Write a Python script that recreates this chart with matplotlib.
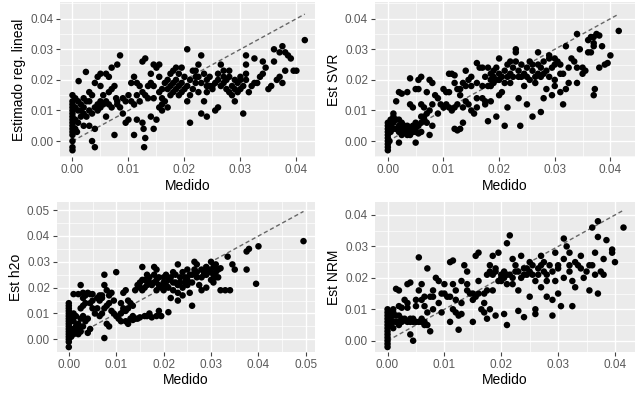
import matplotlib
matplotlib.use('Agg')
import matplotlib.pyplot as plt
from matplotlib.ticker import MultipleLocator, FormatStrFormatter

plt.rcParams['font.family'] = ['Liberation Sans', 'DejaVu Sans']

lineal = [
    (0, -0.003), (0, -0.002), (0, 0.0), (0, 0.002), (0, 0.003), (0, 0.004), (0, 0.005), (0, 0.006),
    (0, 0.007), (0, 0.008), (0, 0.009), (0, 0.010), (0, 0.011), (0, 0.012), (0, 0.013), (0, 0.015),
    (0.0005, 0.011), (0.0005, 0.007), (0.0008, 0.003), (0.0011, 0.0196), (0.0024, 0.0226), (0.001, 0.013),
    (0.0015, 0.012), (0.002, 0.009), (0.0025, 0.008), (0.002, 0.005), (0.003, 0.005), (0.002, 0.014),
    (0.003, 0.016), (0.0035, 0.015), (0.003, 0.013), (0.004, 0.011), (0.0045, 0.012), (0.004, 0.004),
    (0.004, -0.002), (0.0035, 0.0), (0.0045, 0.021), (0.004, 0.019), (0.005, 0.022), (0.005, 0.018),
    (0.0055, 0.015), (0.005, 0.011), (0.006, 0.013), (0.006, 0.022), (0.0065, 0.021), (0.007, 0.024),
    (0.007, 0.017), (0.0075, 0.018), (0.006, 0.008), (0.0065, 0.012), (0.007, 0.011), (0.0075, 0.002),
    (0.008, 0.025), (0.0085, 0.028), (0.0078, 0.014), (0.008, 0.013), (0.009, 0.014), (0.0095, 0.006),
    (0.010, 0.007), (0.009, 0.009), (0.010, 0.015), (0.0105, 0.013), (0.011, 0.012), (0.011, 0.021),
    (0.0115, 0.019), (0.0125, 0.026), (0.013, 0.027), (0.012, 0.013), (0.0125, 0.016), (0.013, 0.015),
    (0.011, 0.002), (0.0115, 0.007), (0.0125, 0.006), (0.0127, 0.004), (0.013, 0.001), (0.0128, -0.002),
    (0.0135, 0.018), (0.014, 0.019), (0.014, 0.022), (0.0145, 0.025), (0.015, 0.024), (0.0155, 0.025),
    (0.0155, 0.021), (0.0145, 0.014), (0.014, 0.008), (0.0145, 0.004), (0.015, 0.007), (0.0155, 0.011),
    (0.016, 0.010), (0.016, 0.012), (0.0165, 0.013), (0.017, 0.011), (0.017, 0.017), (0.0175, 0.018),
    (0.018, 0.019), (0.018, 0.023), (0.0185, 0.024), (0.0185, 0.020), (0.019, 0.018), (0.019, 0.015),
    (0.0195, 0.016), (0.020, 0.021), (0.020, 0.017), (0.0205, 0.030), (0.021, 0.006), (0.0205, 0.013),
    (0.021, 0.015), (0.0215, 0.023), (0.022, 0.021), (0.022, 0.019), (0.0225, 0.016), (0.023, 0.028),
    (0.023, 0.009), (0.024, 0.008), (0.0235, 0.013), (0.024, 0.018), (0.024, 0.020), (0.0245, 0.021),
    (0.025, 0.018), (0.025, 0.017), (0.026, 0.011), (0.0255, 0.010), (0.026, 0.022), (0.0265, 0.025),
    (0.027, 0.021), (0.027, 0.019), (0.0275, 0.017), (0.028, 0.016), (0.028, 0.023), (0.0285, 0.018),
    (0.029, 0.020), (0.029, 0.013), (0.0295, 0.016), (0.030, 0.020), (0.030, 0.017), (0.0305, 0.009),
    (0.031, 0.028), (0.031, 0.025), (0.031, 0.022), (0.0315, 0.016), (0.032, 0.018), (0.0325, 0.027),
    (0.033, 0.019), (0.034, 0.026), (0.034, 0.022), (0.0345, 0.024), (0.035, 0.017), (0.0355, 0.018),
    (0.036, 0.030), (0.036, 0.026), (0.037, 0.029), (0.0375, 0.031), (0.037, 0.021), (0.0375, 0.019),
    (0.038, 0.023), (0.038, 0.029), (0.0385, 0.028), (0.039, 0.027), (0.0395, 0.023), (0.040, 0.023),
    (0.0415, 0.033),
    (0.0005, 0.014), (0.001, 0.010), (0.001, 0.006), (0.0015, 0.010), (0.0015, 0.008), (0.002, 0.011),
    (0.0005, 0.004), (0.0025, 0.013), (0.003, 0.010), (0.0035, 0.009), (0.005, 0.013), (0.0055, 0.012),
    (0.0045, 0.010), (0.0065, 0.016), (0.008, 0.012), (0.0085, 0.011), (0.0095, 0.013), (0.0105, 0.019),
    (0.0135, 0.014), (0.016, 0.017), (0.0165, 0.019), (0.017, 0.020), (0.0175, 0.015), (0.018, 0.016),
    (0.0185, 0.017), (0.019, 0.022), (0.0195, 0.019), (0.0205, 0.018), (0.021, 0.020), (0.0215, 0.017),
    (0.022, 0.023), (0.0225, 0.021), (0.023, 0.019), (0.0235, 0.022), (0.024, 0.016), (0.0245, 0.018),
    (0.0255, 0.019), (0.026, 0.020), (0.0265, 0.018), (0.027, 0.023), (0.0275, 0.020), (0.028, 0.021),
    (0.0285, 0.015), (0.029, 0.017), (0.0295, 0.019), (0.030, 0.021), (0.0305, 0.018), (0.031, 0.020),
    (0.0325, 0.019), (0.0335, 0.021), (0.0365, 0.020), (0.0225, 0.025), (0.0195, 0.024), (0.0175, 0.022),
    (0.012, 0.018), (0.0115, 0.015), (0.0145, 0.018), (0.016, 0.014), (0.0155, 0.016),
]

svr = [
    (0, -0.003), (0, -0.002), (0, -0.001), (0, 0.0), (0, 0.001), (0, 0.002), (0, 0.003), (0, 0.004),
    (0, 0.005), (0, 0.006), (0.0003, 0.0), (0.0005, 0.003), (0.0005, 0.005), (0.001, 0.004), (0.001, 0.009),
    (0.001, 0.008), (0.0015, 0.007), (0.002, 0.005), (0.0025, 0.004), (0.003, 0.003), (0.0035, 0.003),
    (0.004, 0.002), (0.0045, 0.003), (0.005, 0.004), (0.0055, 0.005), (0.006, 0.006), (0.0065, 0.008),
    (0.007, 0.009), (0.0075, 0.010), (0.002, 0.003), (0.003, 0.005), (0.0035, 0.004), (0.004, 0.004),
    (0.005, 0.003), (0.0055, 0.0025), (0.006, 0.003), (0.002, -0.0005), (0.005, -0.0005), (0.0015, 0.013),
    (0.002, 0.016), (0.0025, 0.0155), (0.0035, 0.016), (0.004, 0.012), (0.0045, 0.011), (0.004, 0.0205),
    (0.005, 0.017), (0.0055, 0.020), (0.006, 0.021), (0.0055, 0.017), (0.006, 0.012), (0.0065, 0.011),
    (0.007, 0.016), (0.0075, 0.020), (0.008, 0.019), (0.0075, 0.002), (0.008, 0.005), (0.0085, 0.015),
    (0.009, 0.014), (0.0095, 0.012), (0.010, 0.017), (0.0105, 0.016), (0.010, 0.011), (0.011, 0.022),
    (0.0115, 0.022), (0.012, 0.0215), (0.011, 0.011), (0.0115, 0.010), (0.012, 0.011), (0.0125, 0.012),
    (0.012, 0.004), (0.0125, 0.0035), (0.013, 0.004), (0.0135, 0.006), (0.013, 0.015), (0.013, 0.017),
    (0.0135, 0.019), (0.014, 0.018), (0.014, 0.023), (0.0145, 0.020), (0.015, 0.021), (0.015, 0.018),
    (0.0145, 0.012), (0.015, 0.010), (0.0155, 0.009), (0.016, 0.0255), (0.016, 0.011), (0.0165, 0.024),
    (0.017, 0.024), (0.017, 0.014), (0.0175, 0.013), (0.018, 0.0065), (0.018, 0.018), (0.0185, 0.020),
    (0.0185, 0.022), (0.019, 0.021), (0.019, 0.023), (0.0195, 0.020), (0.020, 0.022), (0.020, 0.027),
    (0.0195, 0.008), (0.020, 0.015), (0.0205, 0.016), (0.021, 0.005), (0.021, 0.019), (0.0215, 0.011),
    (0.0215, 0.025), (0.022, 0.026), (0.022, 0.022), (0.0225, 0.024), (0.023, 0.030), (0.023, 0.029),
    (0.0235, 0.021), (0.0235, 0.014), (0.0238, 0.005), (0.024, 0.025), (0.0245, 0.018), (0.025, 0.021),
    (0.025, 0.012), (0.0255, 0.026), (0.026, 0.008), (0.026, 0.023), (0.0265, 0.019), (0.0265, 0.021),
    (0.027, 0.029), (0.027, 0.025), (0.0275, 0.0095), (0.0275, 0.024), (0.028, 0.022), (0.028, 0.014),
    (0.0285, 0.017), (0.029, 0.027), (0.029, 0.028), (0.0295, 0.015), (0.030, 0.025), (0.030, 0.020),
    (0.030, 0.018), (0.0305, 0.026), (0.031, 0.022), (0.031, 0.016), (0.0315, 0.012), (0.032, 0.031),
    (0.032, 0.017), (0.0325, 0.024), (0.033, 0.027), (0.034, 0.035), (0.034, 0.024), (0.034, 0.019),
    (0.0345, 0.030), (0.035, 0.022), (0.0355, 0.023), (0.036, 0.033), (0.036, 0.029), (0.0365, 0.034),
    (0.037, 0.032), (0.037, 0.031), (0.037, 0.015), (0.0372, 0.017), (0.0375, 0.035), (0.038, 0.0345),
    (0.038, 0.024), (0.0385, 0.031), (0.039, 0.025), (0.0395, 0.0255), (0.040, 0.028), (0.0415, 0.036),
    (0.0005, 0.007), (0.001, 0.006), (0.0015, 0.004), (0.002, 0.007), (0.0025, 0.006), (0.003, 0.004),
    (0.0035, 0.005), (0.004, 0.003), (0.0045, 0.005), (0.005, 0.006), (0.006, 0.008), (0.0065, 0.007),
    (0.007, 0.006), (0.0025, 0.002), (0.0035, 0.002), (0.008, 0.012), (0.009, 0.009), (0.0105, 0.012),
    (0.011, 0.016), (0.012, 0.019), (0.0125, 0.017), (0.0135, 0.011), (0.014, 0.013), (0.016, 0.019),
    (0.017, 0.018), (0.0175, 0.021), (0.018, 0.024), (0.0185, 0.018), (0.019, 0.019), (0.0195, 0.024),
    (0.020, 0.020), (0.0205, 0.021), (0.021, 0.023), (0.0215, 0.021), (0.022, 0.019), (0.0225, 0.021),
    (0.023, 0.026), (0.0235, 0.023), (0.024, 0.021), (0.0245, 0.022), (0.025, 0.024), (0.0255, 0.020),
    (0.026, 0.025), (0.027, 0.022), (0.0275, 0.021), (0.028, 0.026), (0.0285, 0.023), (0.029, 0.021),
    (0.0295, 0.024), (0.030, 0.027), (0.031, 0.025), (0.0315, 0.022), (0.0325, 0.019), (0.0335, 0.026),
    (0.035, 0.024), (0.037, 0.034), (0.0365, 0.029), (0.0185, 0.013), (0.0175, 0.012), (0.016, 0.014),
]

h2o = [
    (0, -0.003), (0, -0.001), (0, 0.0), (0, 0.001), (0, 0.002), (0, 0.003), (0, 0.004), (0, 0.005),
    (0, 0.006), (0, 0.007), (0, 0.008), (0, 0.009), (0, 0.010), (0, 0.011), (0, 0.012), (0, 0.013),
    (0, 0.014), (0.0005, 0.001), (0.001, 0.002), (0.001, 0.004), (0.0015, 0.003), (0.002, 0.002),
    (0.0015, 0.005), (0.002, 0.006), (0.001, 0.0175), (0.002, 0.0175), (0.0025, 0.021), (0.003, 0.018),
    (0.0035, 0.017), (0.0025, 0.012), (0.003, 0.013), (0.0035, 0.014), (0.003, 0.009), (0.0035, 0.007),
    (0.004, 0.008), (0.004, 0.018), (0.0045, 0.0175), (0.005, 0.0175), (0.004, 0.0025), (0.0045, 0.004),
    (0.005, 0.012), (0.0055, 0.010), (0.006, 0.016), (0.0065, 0.015), (0.007, 0.017), (0.007, 0.016),
    (0.0075, 0.025), (0.0075, 0.021), (0.008, 0.019), (0.008, 0.013), (0.0085, 0.017), (0.009, 0.018),
    (0.009, 0.011), (0.008, 0.006), (0.0085, 0.005), (0.0075, 0.0005), (0.007, 0.010), (0.0065, 0.009),
    (0.0095, 0.015), (0.010, 0.026), (0.010, 0.009), (0.0105, 0.008), (0.011, 0.010), (0.011, 0.014),
    (0.0115, 0.018), (0.012, 0.019), (0.0115, 0.012), (0.012, 0.011), (0.0125, 0.012), (0.013, 0.014),
    (0.0135, 0.013), (0.012, 0.007), (0.0125, 0.006), (0.013, 0.008), (0.0135, 0.0075), (0.014, 0.008),
    (0.0145, 0.008), (0.015, 0.0085), (0.015, 0.022), (0.0155, 0.028), (0.0155, 0.019), (0.016, 0.023),
    (0.0165, 0.021), (0.0165, 0.009), (0.017, 0.022), (0.017, 0.010), (0.0175, 0.0085), (0.018, 0.028),
    (0.018, 0.025), (0.0185, 0.027), (0.0185, 0.019), (0.019, 0.021), (0.019, 0.011), (0.0195, 0.009),
    (0.020, 0.022), (0.020, 0.024), (0.0205, 0.025), (0.021, 0.0105), (0.021, 0.020), (0.0215, 0.016),
    (0.022, 0.026), (0.022, 0.019), (0.0225, 0.022), (0.023, 0.029), (0.023, 0.021), (0.023, 0.015),
    (0.0235, 0.024), (0.024, 0.020), (0.024, 0.017), (0.0245, 0.022), (0.025, 0.027), (0.025, 0.023),
    (0.0255, 0.018), (0.026, 0.013), (0.026, 0.025), (0.0265, 0.030), (0.027, 0.029), (0.027, 0.024),
    (0.0275, 0.021), (0.028, 0.019), (0.028, 0.027), (0.0285, 0.025), (0.029, 0.020), (0.029, 0.028),
    (0.0295, 0.026), (0.030, 0.023), (0.030, 0.030), (0.0305, 0.028), (0.031, 0.026), (0.031, 0.024),
    (0.0315, 0.027), (0.032, 0.019), (0.032, 0.0275), (0.033, 0.019), (0.0335, 0.032), (0.034, 0.019),
    (0.0345, 0.029), (0.035, 0.027), (0.0375, 0.034), (0.0375, 0.027), (0.038, 0.035), (0.0395, 0.0215),
    (0.040, 0.036), (0.0495, 0.038),
    (0.0005, 0.004), (0.0005, 0.008), (0.001, 0.007), (0.001, 0.010), (0.0015, 0.009), (0.002, 0.004),
    (0.0025, 0.003), (0.003, 0.005), (0.0025, 0.008), (0.003, 0.016), (0.0045, 0.014), (0.005, 0.015),
    (0.006, 0.012), (0.0065, 0.017), (0.0075, 0.012), (0.0085, 0.014), (0.0095, 0.010), (0.011, 0.007),
    (0.0125, 0.015), (0.014, 0.019), (0.0145, 0.021), (0.015, 0.020), (0.0155, 0.023), (0.016, 0.020),
    (0.0165, 0.025), (0.017, 0.024), (0.0175, 0.021), (0.018, 0.022), (0.0185, 0.023), (0.019, 0.024),
    (0.0195, 0.020), (0.020, 0.019), (0.0205, 0.021), (0.021, 0.023), (0.0215, 0.024), (0.022, 0.022),
    (0.0225, 0.025), (0.023, 0.018), (0.0235, 0.022), (0.024, 0.026), (0.0245, 0.024), (0.025, 0.021),
    (0.0255, 0.025), (0.026, 0.022), (0.0265, 0.027), (0.027, 0.026), (0.028, 0.024), (0.0285, 0.026),
    (0.029, 0.025), (0.0295, 0.027), (0.030, 0.026), (0.0305, 0.025), (0.031, 0.029), (0.0315, 0.024),
    (0.0305, 0.022), (0.016, 0.009), (0.0185, 0.009), (0.0135, 0.009), (0.0115, 0.011),
]

nrm = [
    (0, -0.002), (0, -0.001), (0, 0.0), (0, 0.001), (0, 0.002), (0, 0.003), (0, 0.004), (0, 0.005),
    (0, 0.006), (0, 0.007), (0, 0.008), (0, 0.009), (0, 0.010), (0.0005, 0.007), (0.001, 0.008),
    (0.001, 0.006), (0.0015, 0.008), (0.001, 0.010), (0.0015, 0.0165), (0.002, 0.016), (0.002, 0.011),
    (0.0025, 0.0105), (0.002, 0.006), (0.0025, 0.007), (0.003, 0.0065), (0.003, 0.013), (0.0035, 0.0105),
    (0.0035, 0.018), (0.004, 0.0185), (0.004, 0.002), (0.0045, 0.0), (0.004, 0.006), (0.0045, 0.007),
    (0.005, 0.006), (0.005, 0.011), (0.0055, 0.0265), (0.0055, 0.016), (0.006, 0.018), (0.006, 0.013),
    (0.0065, 0.014), (0.006, 0.006), (0.0065, 0.005), (0.007, 0.005), (0.007, 0.023), (0.0075, 0.014),
    (0.0075, 0.003), (0.007, 0.009), (0.008, 0.010), (0.008, 0.016), (0.0085, 0.020), (0.009, 0.019),
    (0.009, 0.012), (0.0095, 0.009), (0.010, 0.015), (0.0105, 0.014), (0.010, 0.018), (0.011, 0.025),
    (0.0115, 0.0255), (0.011, 0.006), (0.0115, 0.018), (0.012, 0.013), (0.012, 0.009), (0.0125, 0.008),
    (0.0125, 0.0035), (0.013, 0.0085), (0.013, 0.019), (0.0135, 0.024), (0.014, 0.022), (0.014, 0.016),
    (0.0145, 0.015), (0.015, 0.006), (0.015, 0.013), (0.0155, 0.027), (0.016, 0.028), (0.016, 0.015),
    (0.0165, 0.010), (0.017, 0.009), (0.0175, 0.007), (0.017, 0.012), (0.0175, 0.021), (0.018, 0.024),
    (0.018, 0.010), (0.0185, 0.027), (0.0185, 0.016), (0.019, 0.022), (0.019, 0.008), (0.0195, 0.028),
    (0.020, 0.021), (0.020, 0.019), (0.0205, 0.0085), (0.0205, 0.020), (0.021, 0.031), (0.021, 0.021),
    (0.021, 0.005), (0.0215, 0.0335), (0.022, 0.026), (0.022, 0.018), (0.0225, 0.022), (0.023, 0.016),
    (0.023, 0.0095), (0.0235, 0.027), (0.024, 0.021), (0.024, 0.0075), (0.0245, 0.023), (0.025, 0.025),
    (0.025, 0.014), (0.0255, 0.021), (0.026, 0.0085), (0.026, 0.010), (0.0265, 0.023), (0.027, 0.017),
    (0.027, 0.027), (0.0275, 0.022), (0.028, 0.014), (0.028, 0.021), (0.0285, 0.024), (0.029, 0.008),
    (0.029, 0.013), (0.0295, 0.028), (0.030, 0.023), (0.030, 0.015), (0.0305, 0.011), (0.031, 0.020),
    (0.031, 0.0325), (0.0315, 0.030), (0.032, 0.028), (0.032, 0.024), (0.0325, 0.019), (0.0325, 0.011),
    (0.033, 0.017), (0.0335, 0.024), (0.034, 0.027), (0.0345, 0.020), (0.035, 0.022), (0.0355, 0.016),
    (0.036, 0.036), (0.036, 0.024), (0.0365, 0.021), (0.037, 0.038), (0.037, 0.033), (0.037, 0.015),
    (0.0375, 0.022), (0.038, 0.026), (0.038, 0.021), (0.0385, 0.032), (0.0395, 0.029), (0.0395, 0.028),
    (0.040, 0.025), (0.0415, 0.036),
    (0.0005, 0.005), (0.0005, 0.009), (0.001, 0.004), (0.001, 0.009), (0.0015, 0.006), (0.002, 0.008),
    (0.002, 0.005), (0.0025, 0.006), (0.003, 0.007), (0.0035, 0.006), (0.004, 0.007), (0.0045, 0.006),
    (0.0055, 0.006), (0.006, 0.007), (0.0065, 0.006), (0.0035, 0.012), (0.005, 0.013), (0.0065, 0.011),
    (0.008, 0.014), (0.0095, 0.015), (0.011, 0.014), (0.0115, 0.010), (0.012, 0.016), (0.013, 0.012),
    (0.014, 0.018), (0.015, 0.015), (0.0155, 0.014), (0.016, 0.019), (0.017, 0.015), (0.0175, 0.016),
    (0.018, 0.022), (0.0185, 0.021), (0.019, 0.023), (0.0195, 0.019), (0.020, 0.020), (0.0205, 0.022),
    (0.021, 0.018), (0.0215, 0.021), (0.022, 0.020), (0.0225, 0.024), (0.023, 0.022), (0.0235, 0.020),
    (0.024, 0.023), (0.0245, 0.021), (0.025, 0.022), (0.0255, 0.024), (0.026, 0.019), (0.0265, 0.021),
    (0.027, 0.024), (0.0275, 0.025), (0.028, 0.019), (0.029, 0.022), (0.0295, 0.019), (0.030, 0.024),
    (0.031, 0.026), (0.032, 0.022), (0.033, 0.025), (0.034, 0.023), (0.0355, 0.024), (0.0365, 0.028),
]

ylabels = ['Estimado reg. lineal', 'Est SVR', 'Est h2o', 'Est NRM']

fig = plt.figure(figsize=(6.4, 3.93), dpi=100)
# axes boxes measured in the reference (fractions of the figure)
boxes = [[0.094, 0.6005, 0.398, 0.394],
         [0.586, 0.6005, 0.406, 0.394],
         [0.089, 0.105, 0.403, 0.380],
         [0.586, 0.105, 0.406, 0.380]]
limits = [((-0.0022, 0.0433), (-0.0052, 0.0454)),
          ((-0.0023, 0.0444), (-0.0052, 0.0454)),
          ((-0.0025, 0.0519), (-0.0048, 0.0530)),
          ((-0.0022, 0.0435), (-0.0035, 0.0440))]

for data, lab, box, lim in zip([lineal, svr, h2o, nrm], ylabels, boxes, limits):
    ax = fig.add_axes(box)
    xs = [p[0] for p in data]
    ys = [p[1] for p in data]
    ax.set_facecolor('#EBEBEB')
    for s in ax.spines.values():
        s.set_visible(False)
    ax.xaxis.set_major_locator(MultipleLocator(0.01))
    ax.yaxis.set_major_locator(MultipleLocator(0.01))
    ax.xaxis.set_minor_locator(MultipleLocator(0.005))
    ax.yaxis.set_minor_locator(MultipleLocator(0.005))
    ax.xaxis.set_major_formatter(FormatStrFormatter('%.2f'))
    ax.yaxis.set_major_formatter(FormatStrFormatter('%.2f'))
    ax.grid(which='major', color='white', lw=1.0)
    ax.grid(which='minor', color='white', lw=0.5)
    ax.set_axisbelow(True)
    ax.tick_params(which='major', length=3, width=0.8, color='#444444',
                   labelcolor='#5A5A5A', labelsize=8.5, pad=2)
    ax.tick_params(which='minor', length=0)
    ax.scatter(xs, ys, s=22, color='black', edgecolors='none', zorder=3)
    lo, hi = min(xs), max(xs)
    ax.plot([lo, hi], [lo, hi], ls=(0, (3, 2)), color='#666666', lw=1.0, zorder=2)
    ax.set_xlim(*lim[0])
    ax.set_ylim(*lim[1])
    ax.set_xlabel('Medido', fontsize=10, labelpad=2)
    ax.set_ylabel(lab, fontsize=10, labelpad=3)

fig.savefig('out.png', dpi=100)
